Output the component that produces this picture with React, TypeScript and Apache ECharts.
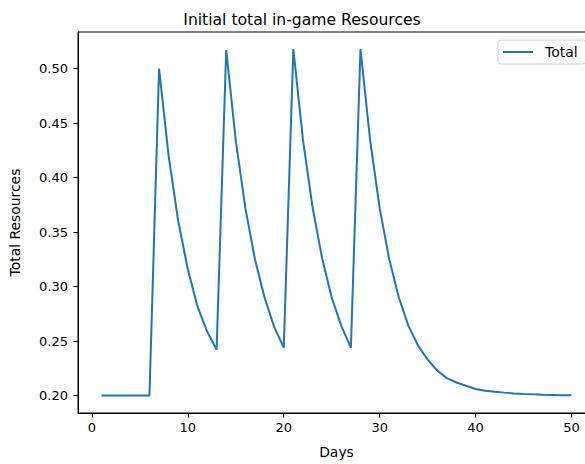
import React, { useEffect, useRef } from "react";
import * as echarts from "echarts";

const days: number[] = Array.from({ length: 50 }, (_, i) => i + 1);
const totalValues: number[] = [
  0.2, 0.2, 0.2, 0.2, 0.2, 0.2,
  0.5, 0.42, 0.36, 0.316, 0.282, 0.259,
  0.242, 0.517, 0.434, 0.372, 0.325, 0.29, 0.263,
  0.244, 0.518, 0.435, 0.373, 0.326, 0.29, 0.264,
  0.244, 0.518, 0.435, 0.372, 0.325, 0.29, 0.264, 0.246,
  0.233, 0.223, 0.216, 0.212, 0.209, 0.206, 0.2045, 0.2035,
  0.2027, 0.202, 0.2015, 0.2011, 0.2008, 0.2006, 0.2004, 0.2003,
];
const xTicks: number[] = [0, 10, 20, 30, 40, 50];
const yTicks: number[] = [0.2, 0.25, 0.3, 0.35, 0.4, 0.45, 0.5];

const FONT = "DejaVu Sans";

export default function App() {
  const ref = useRef<HTMLDivElement>(null);
  useEffect(() => {
    if (!ref.current) return;
    const chart = echarts.init(ref.current, undefined, { renderer: "svg" });
    chart.setOption({
      animation: false,
      backgroundColor: "#fff",
      title: {
        text: "Initial total in-game Resources",
        left: 297,
        top: 7,
        textAlign: "center",
        textStyle: { fontFamily: FONT, fontSize: 15.6, fontWeight: "normal", color: "#000" },
      },
      legend: {
        data: [{ name: "Total", icon: "rect" }],
        left: 498,
        top: 40,
        itemWidth: 30,
        itemHeight: 2,
        padding: [5, 8, 5, 5],
        borderColor: "#d0d0d0",
        borderWidth: 1,
        borderRadius: 3,
        textStyle: { fontFamily: FONT, fontSize: 14, color: "#000", padding: [0, 0, 0, 7] },
      },
      grid: {
        left: 75,
        top: 32,
        width: 520,
        height: 387,
        show: true,
        borderColor: "#000",
        borderWidth: 1,
        backgroundColor: "transparent",
        containLabel: false,
      },
      xAxis: {
        type: "value",
        min: -1.45,
        max: 52.45,
        name: "Days",
        nameLocation: "middle",
        nameGap: 32,
        nameTextStyle: { fontFamily: FONT, fontSize: 13.9, color: "#000" },
        axisLine: { show: true, onZero: false, lineStyle: { color: "#000", width: 1 } },
        axisTick: { show: true, inside: false, length: 4.5, lineStyle: { color: "#000" }, customValues: xTicks },
        axisLabel: {
          fontFamily: FONT,
          fontSize: 13,
          color: "#000",
          margin: 8,
          customValues: xTicks,
          formatter: (v: number) => String(v),
        },
        splitLine: { show: false },
      },
      yAxis: {
        type: "value",
        min: 0.184,
        max: 0.5337,
        name: "Total Resources",
        nameLocation: "middle",
        nameGap: 56,
        nameTextStyle: { fontFamily: FONT, fontSize: 13.9, color: "#000" },
        axisLine: { show: true, onZero: false, lineStyle: { color: "#000", width: 1 } },
        axisTick: { show: true, inside: false, length: 4.5, lineStyle: { color: "#000" }, customValues: yTicks },
        axisLabel: {
          fontFamily: FONT,
          fontSize: 13,
          color: "#000",
          margin: 10,
          customValues: yTicks,
          formatter: (v: number) => v.toFixed(2),
        },
        splitLine: { show: false },
      },
      series: [
        {
          name: "Total",
          type: "line",
          data: days.map((d, i) => [d, totalValues[i]]),
          showSymbol: false,
          symbol: "none",
          lineStyle: { color: "#1f77b4", width: 2 },
          itemStyle: { color: "#1f77b4" },
        },
      ],
    });
    return () => chart.dispose();
  }, []);
  return (
    <div style={{ position: "fixed", left: 0, top: 0, width: 585, height: 464, overflow: "hidden", background: "#fff" }}>
      <div ref={ref} style={{ width: 620, height: 464 }} />
    </div>
  );
}
